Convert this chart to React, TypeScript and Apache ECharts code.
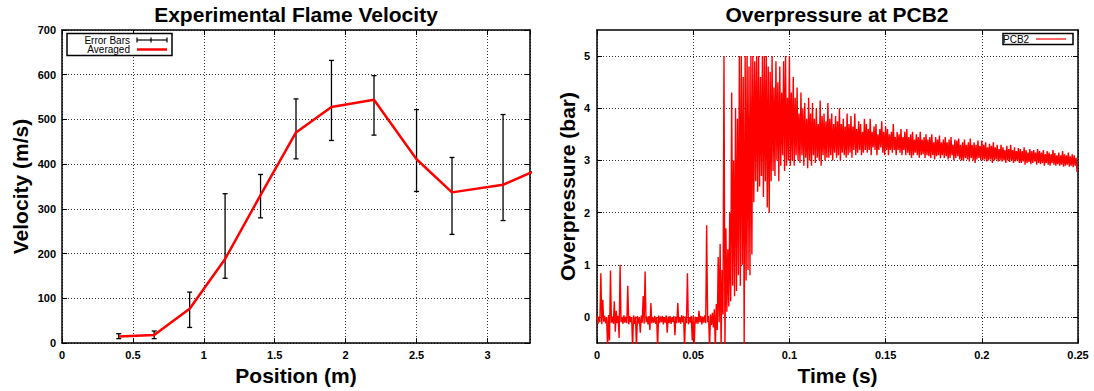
import React, { useEffect, useRef } from "react";
import * as echarts from "echarts";

// ---- Left chart: experimental flame velocity ----
const positions = [0.4, 0.65, 0.9, 1.15, 1.4, 1.65, 1.9, 2.2, 2.5, 2.75, 3.11, 3.4];
const averaged = [15, 18, 77, 188, 331, 471, 528, 544, 411, 337, 354, 394];
const errorLow = [10, 10, 35, 145, 280, 412, 453, 465, 339, 243, 274];
const errorHigh = [21, 27, 114, 334, 377, 546, 632, 598, 522, 415, 511];

// ---- Right chart: overpressure at PCB2, per 1 ms bin (high / low excursion) ----
const pressureTicks = [0, 1, 2, 3, 4, 5];
const pressureBinMs = 1;
const pressureHigh = [
  0.03, 0.01, 0.84, 0.33, 0.02, 0.0, 0.04, 0.89, 0.01, 0.30,
  0.12, 0.02, 1.0, 0.0, 0.03, 0.01, 0.60, 0.02, 0.0, 0.03,
  0.01, 0.02, 0.0, 0.03, 0.40, 0.87, 0.01, 0.02, 0.27, 0.0,
  0.02, 0.0, 0.03, 0.01, 0.02, 0.0, 0.03, 0.01, 0.02, 0.0,
  0.02, 0.01, 0.27, 0.0, 0.03, 0.02, 0.01, 0.84, 0.0, 0.02,
  0.03, 0.01, 0.0, 0.12, 0.02, 0.01, 0.03, 1.76, 0.02, 0.05,
  0.08, 0.15, 0.25, 1.15, 1.40, 0.9, 5.0, 1.7, 1.3, 2.0,
  4.3, 3.0, 4.0, 3.8, 5.0, 5.0, 4.6, 5.0, 5.0, 4.8,
  5.0, 5.0, 4.9, 5.0, 5.0, 4.6, 5.0, 5.0, 5.0, 4.8,
  4.7, 5.0, 4.4, 4.9, 4.5, 4.8, 4.3, 4.9, 5.0, 4.2,
  5.0, 4.3, 4.6, 4.2, 4.4, 3.9, 4.3, 4.0, 4.1, 3.8,
  4.2, 3.9, 4.1, 3.8, 4.0, 3.7, 4.15, 3.85, 3.9, 3.75,
  4.1, 3.8, 3.9, 3.7, 3.85, 3.75, 4.0, 3.7, 3.8, 3.65,
  3.9, 3.7, 3.85, 3.65, 3.9, 3.6, 3.75, 3.7, 3.55, 3.8,
  3.7, 3.6, 3.8, 3.55, 3.65, 3.7, 3.5, 3.6, 3.75, 3.55,
  3.65, 3.6, 3.5, 3.55, 3.7, 3.45, 3.55, 3.5, 3.6, 3.45,
  3.55, 3.6, 3.45, 3.5, 3.55, 3.4, 3.5, 3.45, 3.55, 3.4,
  3.45, 3.5, 3.4, 3.45, 3.5, 3.35, 3.45, 3.4, 3.48, 3.35,
  3.4, 3.45, 3.35, 3.4, 3.45, 3.3, 3.4, 3.38, 3.42, 3.3,
  3.35, 3.4, 3.3, 3.35, 3.42, 3.3, 3.35, 3.3, 3.38, 3.28,
  3.38, 3.3, 3.35, 3.25, 3.32, 3.28, 3.35, 3.25, 3.3, 3.22,
  3.3, 3.25, 3.2, 3.28, 3.22, 3.3, 3.2, 3.25, 3.18, 3.24,
  3.22, 3.18, 3.25, 3.2, 3.15, 3.22, 3.18, 3.2, 3.15, 3.22,
  3.18, 3.15, 3.2, 3.12, 3.18, 3.15, 3.12, 3.2, 3.14, 3.1,
  3.15, 3.1, 3.18, 3.12, 3.1, 3.15, 3.08, 3.12, 3.1, 3.05,
];
const pressureLow = [
  -0.13, -0.10, -0.14, -0.09, -0.12, -0.6, -0.45, -0.11, -0.13, -0.28,
  -0.12, -0.40, -0.10, -0.13, -0.11, -0.12, -0.14, -0.10, -0.6, -0.13,
  -0.6, -0.12, -0.30, -0.11, -0.13, -0.10, -0.14, -0.25, -0.12, -0.11,
  -0.13, -0.6, -0.12, -0.10, -0.14, -0.11, -0.30, -0.12, -0.13, -0.10,
  -0.35, -0.12, -0.11, -0.13, -0.10, -0.6, -0.12, -0.14, -0.11, -0.45,
  -0.6, -0.12, -0.13, -0.10, -0.14, -0.11, -0.12, -0.10, -0.6, -0.15,
  -0.20, -0.6, -0.25, -0.10, -0.6, 0.05, -0.6, 0.10, 0.20, 0.3,
  0.6, 0.4, 0.5, 0.8, 0.6, 1.0, -0.6, 0.7, 0.9, 0.8,
  1.2, 2.2, 2.6, 2.4, 2.5, 2.7, 2.3, 2.6, 2.1, 2.0,
  2.6, 2.8, 2.7, 3.0, 2.6, 2.9, 3.1, 2.8, 2.9, 3.0,
  2.9, 3.0, 2.9, 3.1, 3.0, 2.95, 3.1, 2.9, 3.05, 2.85,
  3.0, 2.9, 3.1, 2.95, 3.05, 3.0, 2.9, 3.1, 3.0, 3.05,
  3.05, 3.1, 3.0, 3.15, 3.05, 3.1, 3.0, 3.15, 3.1, 3.05,
  3.1, 3.15, 3.05, 3.2, 3.1, 3.15, 3.2, 3.1, 3.15, 3.2,
  3.15, 3.2, 3.1, 3.25, 3.2, 3.1, 3.2, 3.25, 3.15, 3.1,
  3.2, 3.1, 3.2, 3.15, 3.2, 3.1, 3.2, 3.15, 3.1, 3.2,
  3.1, 3.15, 3.1, 3.05, 3.1, 3.15, 3.1, 3.05, 3.1, 3.12,
  3.05, 3.1, 3.08, 3.05, 3.1, 3.02, 3.08, 3.1, 3.05, 3.1,
  3.05, 3.08, 3.02, 3.05, 3.1, 3.0, 3.05, 3.08, 3.02, 3.0,
  3.0, 3.05, 3.02, 2.98, 3.05, 3.0, 2.95, 3.02, 3.05, 3.0,
  3.0, 3.02, 2.98, 3.0, 3.02, 2.95, 3.0, 3.02, 2.98, 3.0,
  2.98, 3.0, 2.95, 3.0, 2.97, 3.0, 2.95, 2.98, 3.0, 2.95,
  2.95, 2.98, 2.92, 2.95, 2.97, 2.93, 2.95, 2.98, 2.92, 2.95,
  2.93, 2.95, 2.9, 2.95, 2.92, 2.9, 2.95, 2.92, 2.9, 2.93,
  2.9, 2.92, 2.88, 2.9, 2.92, 2.88, 2.9, 2.87, 2.9, 2.78,
];

const FONT = "Liberation Sans";

function buildOption() {
  const lineData = positions.map((p, i) => [p, averaged[i]]);
  const errData = errorLow.map((lo, i) => [positions[i], lo, errorHigh[i]]);
  const pressureData: number[][] = [];
  pressureHigh.forEach((hi, i) => {
    const t = (i * pressureBinMs) / 1000;
    pressureData.push([t, hi]);
    pressureData.push([t + pressureBinMs / 2000, pressureLow[i]]);
  });

  const axisLine = { show: true, onZero: false, lineStyle: { color: "#000", width: 1.5 } };
  const axisTick = { show: true, inside: true, length: 5, lineStyle: { color: "#000", width: 1 } };
  const splitLine = { show: true, lineStyle: { color: "#333", type: [1, 2], width: 1 } };
  const label = { color: "#000", fontSize: 11, fontWeight: "bold", fontFamily: FONT };
  const nameStyle = { color: "#000", fontSize: 21, fontWeight: "bold", fontFamily: FONT };
  const mirror = {
    axisLine,
    axisTick,
    axisLabel: { show: false },
    splitLine: { show: false },
  };

  return {
    animation: false,
    backgroundColor: "#fff",
    grid: [
      { left: 62, top: 30, width: 468, height: 314, show: false },
      { left: 597, top: 30, width: 481, height: 314, show: false },
    ],
    xAxis: [
      {
        gridIndex: 0, type: "value", min: 0, max: 3.3, interval: 0.5,
        name: "Position (m)", nameLocation: "middle", nameGap: 16, nameTextStyle: nameStyle,
        axisLine, axisTick, splitLine,
        axisLabel: { ...label, margin: 6, showMaxLabel: false },
      },
      { gridIndex: 0, type: "value", min: 0, max: 3.3, interval: 0.5, position: "top", ...mirror },
      {
        gridIndex: 1, type: "value", min: 0, max: 0.25, interval: 0.05,
        name: "Time (s)", nameLocation: "middle", nameGap: 16, nameTextStyle: nameStyle,
        axisLine, axisTick, splitLine,
        axisLabel: { ...label, margin: 6 },
      },
      { gridIndex: 1, type: "value", min: 0, max: 0.25, interval: 0.05, position: "top", ...mirror },
    ],
    yAxis: [
      {
        gridIndex: 0, type: "value", min: 0, max: 700, interval: 100,
        name: "Velocity (m/s)", nameLocation: "middle", nameGap: 31, nameTextStyle: nameStyle,
        axisLine, axisTick, splitLine,
        axisLabel: { ...label, margin: 6 },
      },
      { gridIndex: 0, type: "value", min: 0, max: 700, interval: 100, position: "right", ...mirror },
      {
        gridIndex: 1, type: "value", min: -0.5, max: 5.5,
        name: "Overpressure (bar)", nameLocation: "middle", nameGap: 19, nameTextStyle: nameStyle,
        axisLine,
        axisTick: { ...axisTick, customValues: pressureTicks },
        splitLine: { ...splitLine, customValues: pressureTicks },
        axisLabel: { ...label, margin: 7, customValues: pressureTicks },
      },
      {
        gridIndex: 1, type: "value", min: -0.5, max: 5.5, position: "right",
        axisLine,
        axisTick: { ...axisTick, customValues: pressureTicks },
        axisLabel: { show: false },
        splitLine: { show: false },
      },
    ],
    series: [
      {
        name: "Error Bars",
        type: "custom",
        xAxisIndex: 0, yAxisIndex: 0,
        clip: true,
        encode: { x: 0, y: [1, 2] },
        data: errData,
        renderItem: (_p: any, api: any) => {
          const x = api.value(0);
          const a = api.coord([x, api.value(1)]);
          const b = api.coord([x, api.value(2)]);
          const w = 2.5;
          const st = { stroke: "#000", lineWidth: 1.3 };
          return {
            type: "group",
            children: [
              { type: "line", shape: { x1: a[0], y1: a[1], x2: b[0], y2: b[1] }, style: st },
              { type: "line", shape: { x1: a[0] - w, y1: a[1], x2: a[0] + w, y2: a[1] }, style: st },
              { type: "line", shape: { x1: b[0] - w, y1: b[1], x2: b[0] + w, y2: b[1] }, style: st },
            ],
          };
        },
      },
      {
        name: "Averaged",
        type: "line",
        xAxisIndex: 0, yAxisIndex: 0,
        data: lineData,
        showSymbol: false,
        symbol: "none",
        clip: true,
        lineStyle: { color: "#ff0000", width: 2.5 },
      },
      {
        name: "PCB2",
        type: "line",
        xAxisIndex: 2, yAxisIndex: 2,
        data: pressureData,
        showSymbol: false,
        symbol: "none",
        clip: true,
        lineStyle: { color: "#ff0000", width: 1.4 },
      },
    ],
    graphic: [
      {
        type: "text", x: 296, y: 14,
        style: { text: "Experimental Flame Velocity", fill: "#000", font: `bold 21px "${FONT}"`, textAlign: "center", textVerticalAlign: "middle" },
      },
      {
        type: "text", x: 837, y: 14,
        style: { text: "Overpressure at PCB2", fill: "#000", font: `bold 21px "${FONT}"`, textAlign: "center", textVerticalAlign: "middle" },
      },
      // left legend
      { type: "rect", shape: { x: 67, y: 33.5, width: 105, height: 22 }, style: { fill: "#fff", stroke: "#000", lineWidth: 1.5 }, z: 100 },
      {
        type: "text", x: 130, y: 40, z: 101,
        style: { text: "Error Bars", fill: "#000", font: `10px "${FONT}"`, textAlign: "right", textVerticalAlign: "middle" },
      },
      {
        type: "text", x: 130, y: 49.5, z: 101,
        style: { text: "Averaged", fill: "#000", font: `10px "${FONT}"`, textAlign: "right", textVerticalAlign: "middle" },
      },
      { type: "line", z: 101, shape: { x1: 137, y1: 40, x2: 167, y2: 40 }, style: { stroke: "#000", lineWidth: 1.2 } },
      { type: "line", z: 101, shape: { x1: 137, y1: 37.5, x2: 137, y2: 42.5 }, style: { stroke: "#000", lineWidth: 1.2 } },
      { type: "line", z: 101, shape: { x1: 151, y1: 37.5, x2: 151, y2: 42.5 }, style: { stroke: "#000", lineWidth: 1.2 } },
      { type: "line", z: 101, shape: { x1: 167, y1: 37.5, x2: 167, y2: 42.5 }, style: { stroke: "#000", lineWidth: 1.2 } },
      { type: "line", z: 101, shape: { x1: 137, y1: 49.5, x2: 167, y2: 49.5 }, style: { stroke: "#ff0000", lineWidth: 2.5 } },
      // right legend
      { type: "rect", shape: { x: 1003, y: 33.5, width: 70, height: 11 }, style: { fill: "#fff", stroke: "#000", lineWidth: 1.5 }, z: 100 },
      {
        type: "text", x: 1003, y: 39.5, z: 101,
        style: { text: "PCB2", fill: "#000", font: `10px "${FONT}"`, textAlign: "left", textVerticalAlign: "middle" },
      },
      { type: "line", z: 101, shape: { x1: 1036, y1: 39, x2: 1066, y2: 39 }, style: { stroke: "#ff0000", lineWidth: 1.2 } },
    ],
  };
}

export default function App() {
  const ref = useRef<HTMLDivElement>(null);
  useEffect(() => {
    if (!ref.current) return;
    const chart = echarts.init(ref.current, undefined, { renderer: "svg" });
    chart.setOption(buildOption() as any);
    return () => chart.dispose();
  }, []);
  return (
    <div
      ref={ref}
      style={{ position: "absolute", left: 0, top: 0, width: 1094, height: 391, background: "#fff" }}
    />
  );
}
